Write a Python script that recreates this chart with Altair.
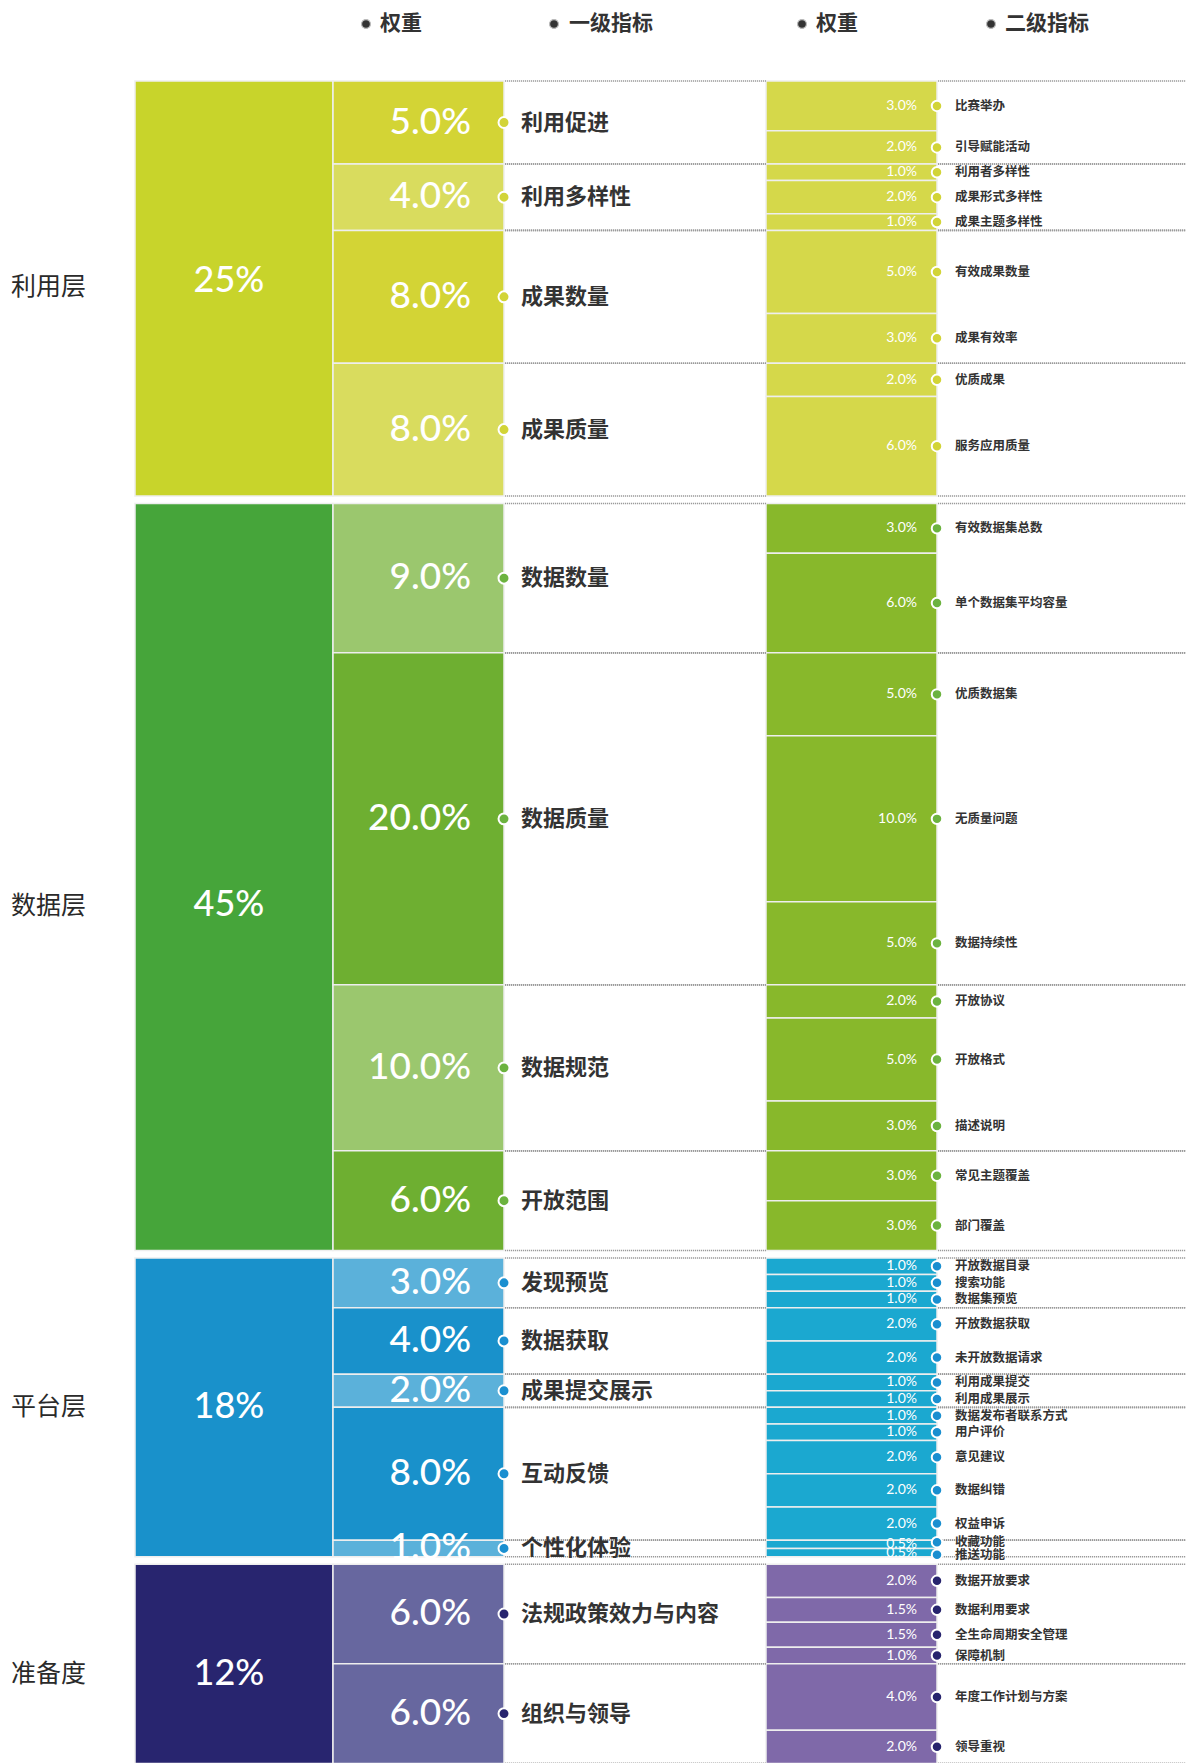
import altair as alt
import pandas as pd

# ---------------- data ----------------
layers = ["利用层", "数据层", "平台层", "准备度"]
layer_weights = [25, 45, 18, 12]

l1_names = ["利用促进", "利用多样性", "成果数量", "成果质量",
            "数据数量", "数据质量", "数据规范", "开放范围",
            "发现预览", "数据获取", "成果提交展示", "互动反馈", "个性化体验",
            "法规政策效力与内容", "组织与领导"]
l1_weights = [5, 4, 8, 8, 9, 20, 10, 6, 3, 4, 2, 8, 1, 6, 6]
l1_layer = [0, 0, 0, 0, 1, 1, 1, 1, 2, 2, 2, 2, 2, 3, 3]

l2_names = ["比赛举办", "引导赋能活动",
            "利用者多样性", "成果形式多样性", "成果主题多样性",
            "有效成果数量", "成果有效率",
            "优质成果", "服务应用质量",
            "有效数据集总数", "单个数据集平均容量",
            "优质数据集", "无质量问题", "数据持续性",
            "开放协议", "开放格式", "描述说明",
            "常见主题覆盖", "部门覆盖",
            "开放数据目录", "搜索功能", "数据集预览",
            "开放数据获取", "未开放数据请求",
            "利用成果提交", "利用成果展示",
            "数据发布者联系方式", "用户评价", "意见建议", "数据纠错", "权益申诉",
            "收藏功能", "推送功能",
            "数据开放要求", "数据利用要求", "全生命周期安全管理", "保障机制",
            "年度工作计划与方案", "领导重视"]
l2_weights = [3, 2,
              1, 2, 1,
              5, 3,
              2, 6,
              3, 6,
              5, 10, 5,
              2, 5, 3,
              3, 3,
              1, 1, 1,
              2, 2,
              1, 1,
              1, 1, 2, 2, 2,
              0.5, 0.5,
              2, 1.5, 1.5, 1,
              4, 2]
l2_parent = [0, 0,
             1, 1, 1,
             2, 2,
             3, 3,
             4, 4,
             5, 5, 5,
             6, 6, 6,
             7, 7,
             8, 8, 8,
             9, 9,
             10, 10,
             11, 11, 11, 11, 11,
             12, 12,
             13, 13, 13, 13,
             14, 14]

headers = ["权重", "一级指标", "权重", "二级指标"]

# ---------------- style ----------------
col1_colors = ["#c8d42b", "#46a53a", "#1991cb", "#28256f"]
col3_colors = ["#d5d84a", "#88b82b", "#1ba8d0", "#7f69a9"]
dot_colors = ["#d2d437", "#6cb33f", "#1a8fd0", "#27246e"]
l1_colors = ["#d3d435", "#d9dc5e", "#d3d435", "#d9dc5e",
             "#9bc76e", "#6eaf31", "#9bc76e", "#6eaf31",
             "#5bb1da", "#1991cb", "#5bb1da", "#1991cb", "#5bb1da",
             "#67679f", "#67679f"]
# vertical placement of the layer texts inside each layer block (fraction)
pct_frac = [0.483, 0.537, 0.50, 0.553]
name_frac = [0.497, 0.539, 0.50, 0.553]

W, H = 1178, 1755
K = 16.6          # px per percent
TOP = 81          # screen y of first block
GAP = 0.45        # gap between layers (percent units)
MIN_SEP = 12.5 / K

C1 = (135, 333)
C2 = (333, 504)
C3 = (766, 937)

xs = alt.Scale(domain=[8, 8 + W], range=[0, W])
y0 = -(TOP - 8) / K
ys = alt.Scale(domain=[y0, y0 + H / K], range=[0, H], zero=False, nice=False)

# ---------------- positions from data ----------------
layer_top = []
acc = 0
for i, w in enumerate(layer_weights):
    layer_top.append(acc + i * GAP)
    acc += w

l1_top = []
cursor = {}
for j, w in enumerate(l1_weights):
    L = l1_layer[j]
    t = cursor.get(L, layer_top[L])
    l1_top.append(t)
    cursor[L] = t + w

l2_top = []
cursor2 = {}
for k, w in enumerate(l2_weights):
    p = l2_parent[k]
    t = cursor2.get(p, l1_top[p])
    l2_top.append(t)
    cursor2[p] = t + w

# label positions for level 2, spread apart when too close
l2_mid = [l2_top[k] + w / 2 for k, w in enumerate(l2_weights)]
l2_lab_y = list(l2_mid)
for _ in range(20):
    for k in range(1, len(l2_lab_y)):
        d = l2_lab_y[k] - l2_lab_y[k - 1]
        if d < MIN_SEP:
            s = (MIN_SEP - d) / 2
            l2_lab_y[k - 1] -= s
            l2_lab_y[k] += s

rects = []
for i, w in enumerate(layer_weights):
    rects.append(dict(x=C1[0], x2=C1[1], y=layer_top[i], y2=layer_top[i] + w, c=col1_colors[i]))
for j, w in enumerate(l1_weights):
    rects.append(dict(x=C2[0], x2=C2[1], y=l1_top[j], y2=l1_top[j] + w, c=l1_colors[j]))
for k, w in enumerate(l2_weights):
    L = l1_layer[l2_parent[k]]
    rects.append(dict(x=C3[0], x2=C3[1], y=l2_top[k], y2=l2_top[k] + w, c=col3_colors[L]))
rects = pd.DataFrame(rects)

X = alt.X("x:Q", scale=xs, axis=None)
X2 = alt.X2("x2:Q")
Y = alt.Y("y:Q", scale=ys, axis=None)
Y2 = alt.Y2("y2:Q")

rect_layer = alt.Chart(rects).mark_rect(stroke="#eeeeee", strokeWidth=1.5, clip=True).encode(
    x=X, x2=X2, y=Y, y2=Y2, color=alt.Color("c:N", scale=None))

# dotted separators in label areas
lines = []
for j, w in enumerate(l1_weights):
    for yy in (l1_top[j], l1_top[j] + w):
        lines.append(dict(x=505, x2=766, y=yy))
        lines.append(dict(x=938, x2=8 + W, y=yy))
lines = pd.DataFrame(lines)
line_layer = alt.Chart(lines).mark_rule(color="#9a9a9a", strokeWidth=1.6, strokeDash=[1.2, 0.8], clip=True).encode(
    x=X, x2=X2, y=Y)

# layer names and layer weights
lay = pd.DataFrame(dict(
    name=layers,
    pct=[f"{w}%" for w in layer_weights],
    yp=[layer_top[i] + w * pct_frac[i] for i, w in enumerate(layer_weights)],
    yn=[layer_top[i] + w * name_frac[i] for i, w in enumerate(layer_weights)],
    xl=[11] * 4,
    xc=[229] * 4,
))
lay_name = alt.Chart(lay).mark_text(align="left", baseline="middle", fontSize=25,
                                    font="Noto Sans CJK SC", color="#2a2a2a").encode(
    x=alt.X("xl:Q", scale=xs, axis=None), y=alt.Y("yn:Q", scale=ys, axis=None), text="name:N")
lay_pct = alt.Chart(lay).mark_text(align="center", baseline="middle", fontSize=36, fontWeight=500,
                                   font="Lato", color="white", clip=True).encode(
    x=alt.X("xc:Q", scale=xs, axis=None), y=alt.Y("yp:Q", scale=ys, axis=None), text="pct:N")

# level 1 texts
l1 = pd.DataFrame(dict(
    name=l1_names,
    pct=[f"{w:.1f}%" for w in l1_weights],
    y=[l1_top[j] + w / 2 for j, w in enumerate(l1_weights)],
    dc=[dot_colors[l1_layer[j]] for j in range(len(l1_names))],
    xw=[471] * len(l1_names),
    xd=[504] * len(l1_names),
    xl=[521] * len(l1_names),
))
l1_pct = alt.Chart(l1).mark_text(align="right", baseline="middle", fontSize=37, fontWeight=500,
                                 font="Lato", color="white").encode(
    x=alt.X("xw:Q", scale=xs, axis=None), y=Y, text="pct:N")
l1_dot = alt.Chart(l1).mark_point(filled=True, shape="circle", size=120, stroke="white",
                                  strokeWidth=2, opacity=1).encode(
    x=alt.X("xd:Q", scale=xs, axis=None), y=Y, fill=alt.Fill("dc:N", scale=None))
l1_lab = alt.Chart(l1).mark_text(align="left", baseline="middle", fontSize=22, fontWeight="bold",
                                 font="Noto Sans CJK SC", color="#333333").encode(
    x=alt.X("xl:Q", scale=xs, axis=None), y=Y, text="name:N")

# level 2 texts
l2 = pd.DataFrame(dict(
    name=l2_names,
    pct=[f"{w:.1f}%" for w in l2_weights],
    y=l2_mid,
    yl=l2_lab_y,
    dc=[dot_colors[l1_layer[l2_parent[k]]] for k in range(len(l2_names))],
    xw=[917] * len(l2_names),
    xd=[937] * len(l2_names),
    xl=[955] * len(l2_names),
))
l2_pct = alt.Chart(l2).mark_text(align="right", baseline="middle", fontSize=14,
                                 font="Lato", color="white").encode(
    x=alt.X("xw:Q", scale=xs, axis=None), y=Y, text="pct:N")
l2_dot = alt.Chart(l2).mark_point(filled=True, shape="circle", size=110, stroke="white",
                                  strokeWidth=2, opacity=1).encode(
    x=alt.X("xd:Q", scale=xs, axis=None), y=alt.Y("yl:Q", scale=ys, axis=None),
    fill=alt.Fill("dc:N", scale=None))
l2_lab = alt.Chart(l2).mark_text(align="left", baseline="middle", fontSize=12.5, fontWeight="bold",
                                 font="Noto Sans CJK SC", color="#333333").encode(
    x=alt.X("xl:Q", scale=xs, axis=None), y=alt.Y("yl:Q", scale=ys, axis=None), text="name:N")

# header
hd = pd.DataFrame(dict(
    name=headers,
    xb=[366, 554, 802, 991],
    xt=[380, 569, 816, 1005],
    y=[y0 + (24 - 8) / K] * 4,
))
hd_dot = alt.Chart(hd).mark_point(filled=True, shape="circle", size=80, color="#333333",
                                  stroke="#bbbbbb", strokeWidth=1.2, opacity=1).encode(
    x=alt.X("xb:Q", scale=xs, axis=None), y=Y)
hd_txt = alt.Chart(hd).mark_text(align="left", baseline="middle", fontSize=21, fontWeight="bold",
                                 font="Noto Sans CJK SC", color="#333333").encode(
    x=alt.X("xt:Q", scale=xs, axis=None), y=Y, text="name:N")

chart = alt.layer(
    rect_layer, line_layer, lay_name, lay_pct, l1_pct, l1_dot, l1_lab,
    l2_pct, l2_dot, l2_lab, hd_dot, hd_txt
).properties(
    width=W, height=H, padding=0, autosize=alt.AutoSizeParams(type="none")
).configure_view(stroke=None)

chart.save("out.html", embed_options={"renderer": "svg", "actions": False})
